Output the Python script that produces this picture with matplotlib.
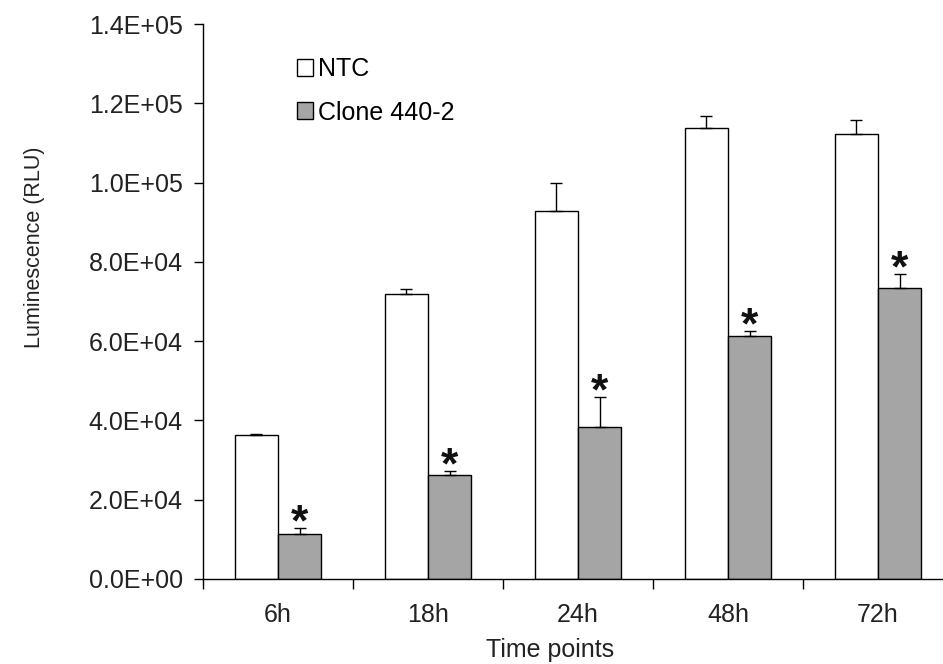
import matplotlib
matplotlib.use("Agg")
import matplotlib.pyplot as plt
import numpy as np
from matplotlib.ticker import FormatStrFormatter, FixedLocator
from matplotlib.patches import Patch

plt.rcParams['font.family'] = ['Liberation Sans', 'DejaVu Sans']

# luminescence readings (RLU) at each time point
time_points = ['6h', '18h', '24h', '48h', '72h']
ntc_mean = [36400, 72000, 92800, 113800, 112300]
ntc_err = [300, 1200, 7200, 3000, 3500]
clone_mean = [11350, 26200, 38300, 61300, 73400]
clone_err = [1600, 1000, 7600, 1300, 3600]
significant = [True, True, True, True, True]

fig = plt.figure(figsize=(9.43, 6.64), dpi=100)
ax = fig.add_axes([203 / 943, 1 - 579 / 664, 750 / 943, 555 / 664])

x = np.arange(len(time_points))
w = 0.287
err_kw = dict(ecolor='black', elinewidth=1.0, capsize=4.5, capthick=1.0)

ax.bar(x - w / 2, ntc_mean, w, color='white', edgecolor='black', linewidth=1.0,
       yerr=[np.zeros(len(x)), ntc_err], error_kw=err_kw, zorder=2)
ax.bar(x + w / 2, clone_mean, w, color='#a5a5a5', edgecolor='black', linewidth=1.0,
       yerr=[np.zeros(len(x)), clone_err], error_kw=err_kw, zorder=2)

# asterisks above the clone error bars
for xi, m, e, s in zip(x, clone_mean, clone_err, significant):
    if s:
        ax.annotate('*', xy=(xi + w / 2, m + e), xytext=(0, -5.5), textcoords='offset points',
                    ha='center', va='baseline', fontsize=32, fontweight='bold', color='#111111')

ax.set_xlim(-0.5, 4.5)
ax.set_ylim(0, 140000)
ax.set_yticks(np.arange(0, 140001, 20000))
ax.yaxis.set_major_formatter(FormatStrFormatter('%.1E'))

# group boundaries get the ticks, labels sit at group centres
ax.xaxis.set_major_locator(FixedLocator(np.arange(-0.5, 4.6, 1.0)))
ax.xaxis.set_minor_locator(FixedLocator(x))
ax.set_xticklabels([''] * 6)
ax.set_xticklabels(time_points, minor=True)
ax.tick_params(axis='x', which='major', length=7.5, width=1.0, direction='out')
ax.tick_params(axis='x', which='minor', length=0, pad=17, labelsize=18, labelcolor='#222222')
ax.tick_params(axis='y', length=6.5, width=1.0, direction='out', pad=8, labelsize=18, labelcolor='#222222')

for side in ['top', 'right']:
    ax.spines[side].set_visible(False)
for side in ['left', 'bottom']:
    ax.spines[side].set_linewidth(1.0)

fig.text(35 / 943, 1 - 247 / 664, 'Luminescence (RLU)', rotation=90, ha='center', va='center',
         fontsize=15.5, color='#222222')
fig.text(550 / 943, 1 - 657 / 664, 'Time points', ha='center', va='baseline', fontsize=18, color='#222222')

handles = [Patch(facecolor='white', edgecolor='black', linewidth=1.0),
           Patch(facecolor='#a5a5a5', edgecolor='black', linewidth=1.0)]
ax.legend(handles, ['NTC', 'Clone 440-2'], loc='upper left', bbox_to_anchor=(297 / 943, 1 - 57 / 664),
          bbox_transform=fig.transFigure, frameon=False, fontsize=18, handlelength=0.65,
          handleheight=0.65, handletextpad=0.2, labelspacing=0.78, borderpad=0, borderaxespad=0)

fig.savefig('out.png', dpi=100)
